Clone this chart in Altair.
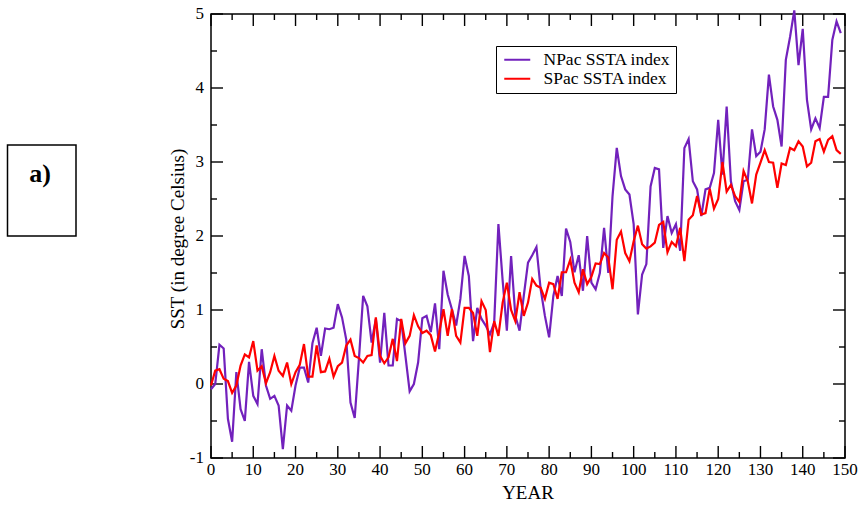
import altair as alt
import pandas as pd

years = list(range(150))

npac = [-0.07, 0.00, 0.53, 0.48, -0.47, -0.78, 0.16, -0.34, -0.50, 0.30,
        -0.16, -0.27, 0.47, -0.02, -0.20, -0.16, -0.29, -0.88, -0.29, -0.36,
        -0.02, 0.22, 0.22, 0.02, 0.55, 0.76, 0.38, 0.75, 0.74, 0.76,
        1.08, 0.90, 0.60, -0.25, -0.46, 0.34, 1.19, 1.05, 0.56, 0.88,
        0.29, 0.96, 0.25, 0.25, 0.88, 0.85, 0.38, -0.10, 0.00, 0.29,
        0.89, 0.92, 0.70, 1.09, 0.47, 1.53, 1.21, 1.01, 0.79, 1.15,
        1.73, 1.46, 0.58, 1.03, 0.88, 0.79, 0.67, 0.83, 2.16, 1.40,
        0.72, 1.73, 0.92, 0.72, 1.19, 1.64, 1.74, 1.85, 1.28, 0.92,
        0.63, 1.19, 1.46, 1.19, 2.10, 1.92, 1.51, 1.74, 1.26, 2.00,
        1.37, 1.28, 1.50, 2.11, 1.50, 2.54, 3.19, 2.81, 2.63, 2.56,
        2.16, 0.94, 1.48, 1.62, 2.67, 2.92, 2.90, 1.84, 2.27, 2.04,
        2.16, 1.80, 3.19, 3.31, 2.74, 2.63, 2.27, 2.63, 2.65, 2.85,
        3.57, 2.83, 3.75, 2.74, 2.47, 2.35, 2.74, 2.76, 3.44, 3.08,
        3.14, 3.44, 4.18, 3.75, 3.57, 3.21, 4.38, 4.69, 5.05, 4.31,
        4.80, 3.84, 3.44, 3.59, 3.46, 3.88, 3.88, 4.65, 4.90, 4.74]

spac = [-0.02, 0.18, 0.20, 0.07, 0.04, -0.12, -0.02, 0.25, 0.40, 0.36,
        0.58, 0.18, 0.24, 0.01, 0.16, 0.38, 0.18, 0.11, 0.29, 0.00,
        0.16, 0.26, 0.54, 0.10, 0.10, 0.52, 0.16, 0.17, 0.34, 0.10,
        0.24, 0.29, 0.52, 0.60, 0.38, 0.35, 0.29, 0.38, 0.39, 0.90,
        0.38, 0.28, 0.36, 0.61, 0.31, 0.88, 0.55, 0.65, 0.93, 0.78,
        0.69, 0.72, 0.66, 0.44, 0.70, 1.01, 0.65, 1.01, 0.65, 0.56,
        1.03, 1.03, 0.96, 0.65, 1.12, 1.00, 0.43, 0.85, 0.65, 1.10,
        1.37, 1.00, 0.85, 1.24, 0.92, 1.10, 1.42, 1.33, 1.30, 1.15,
        1.37, 1.35, 1.15, 1.51, 1.51, 1.68, 1.37, 1.24, 1.55, 1.35,
        1.45, 1.63, 1.62, 1.77, 1.71, 1.28, 1.95, 2.06, 1.77, 1.66,
        1.93, 2.14, 1.89, 1.83, 1.86, 1.91, 2.15, 2.19, 1.78, 1.92,
        1.86, 2.11, 1.66, 2.22, 2.28, 2.54, 2.29, 2.31, 2.64, 2.37,
        2.50, 3.00, 2.60, 2.69, 2.54, 2.46, 2.88, 2.74, 2.44, 2.83,
        2.99, 3.16, 3.00, 2.99, 2.65, 2.98, 2.96, 3.19, 3.16, 3.28,
        3.21, 2.94, 2.99, 3.28, 3.31, 3.14, 3.30, 3.35, 3.16, 3.11]

series_names = ["NPac SSTA index", "SPac SSTA index"]
series_colors = ["#7221bc", "#ff0000"]

x_major_values = list(range(0, 151, 10))
x_minor_values = list(range(5, 150, 10))
y_major_values = list(range(-1, 6))
y_minor_values = [v + 0.5 for v in range(-1, 5)]

x_title = "YEAR"
y_title = "SST (in degree Celsius)"
panel_label = "a)"

X_MIN, X_MAX = 0, 150
Y_MIN, Y_MAX = -1, 5

df = pd.DataFrame({
    "YEAR": years + years,
    "SST": npac + spac,
    "series": [series_names[0]] * len(years) + [series_names[1]] * len(years),
})
one = pd.DataFrame({"k": [0]})

W, H = 634, 444
LEFT, TOP = 211, 14
MAJOR, MINOR = 12, 6  # tick lengths in pixels
PX_PER_X = W / (X_MAX - X_MIN)
PX_PER_Y = H / (Y_MAX - Y_MIN)
FONT = "Liberation Serif"

xs = alt.Scale(domain=[X_MIN, X_MAX], nice=False, zero=False)
ys = alt.Scale(domain=[Y_MIN, Y_MAX], nice=False, zero=False)

lines = alt.Chart(df).mark_line(strokeWidth=2.2).encode(
    x=alt.X("YEAR:Q", scale=xs, axis=None),
    y=alt.Y("SST:Q", scale=ys, axis=None),
    color=alt.Color("series:N", sort=series_names,
                    scale=alt.Scale(domain=series_names, range=series_colors),
                    legend=alt.Legend(
                        title=None, orient="none", legendX=285, legendY=32,
                        strokeColor="black", fillColor="white", padding=5,
                        symbolType="M-2,0H2", symbolSize=169, symbolStrokeWidth=2,
                        symbolOffset=7.5, symbolFillColor="transparent",
                        labelFont=FONT, labelFontSize=17.5,
                        labelColor="black", labelOffset=17.5, rowPadding=0)),
)

# Inward tick marks on all four sides, as two-point segments built from the tick lists.
tick_rows = []
tid = 0
for v in x_major_values + x_minor_values:
    L = (MAJOR if v in x_major_values else MINOR) / PX_PER_Y
    for y0, y1 in ((Y_MIN, Y_MIN + L), (Y_MAX, Y_MAX - L)):
        tick_rows.append({"tid": tid, "ord": 0, "YEAR": v, "SST": y0})
        tick_rows.append({"tid": tid, "ord": 1, "YEAR": v, "SST": y1})
        tid += 1
for v in y_major_values + y_minor_values:
    L = (MAJOR if v in y_major_values else MINOR) / PX_PER_X
    for x0, x1 in ((X_MIN, X_MIN + L), (X_MAX, X_MAX - L)):
        tick_rows.append({"tid": tid, "ord": 0, "YEAR": x0, "SST": v})
        tick_rows.append({"tid": tid, "ord": 1, "YEAR": x1, "SST": v})
        tid += 1
ticks_df = pd.DataFrame(tick_rows)

ticks = alt.Chart(ticks_df).mark_line(color="black", strokeWidth=1.4).encode(
    x=alt.X("YEAR:Q", scale=xs, axis=None),
    y=alt.Y("SST:Q", scale=ys, axis=None),
    detail="tid:N",
    order="ord:Q",
)

xlab_df = pd.DataFrame({"pos": x_major_values, "label": [str(v) for v in x_major_values]})
ylab_df = pd.DataFrame({"pos": y_major_values, "label": [str(v) for v in y_major_values]})

x_labels = alt.Chart(xlab_df).mark_text(
    font=FONT, fontSize=17, color="black", align="center", baseline="top").encode(
    x=alt.X("pos:Q", scale=xs, axis=None), y=alt.value(H + 4), text="label:N")

y_labels = alt.Chart(ylab_df).mark_text(
    font=FONT, fontSize=17, color="black", align="right", baseline="middle").encode(
    y=alt.Y("pos:Q", scale=ys, axis=None), x=alt.value(-7), text="label:N")

x_title_mark = alt.Chart(one).mark_text(
    font=FONT, fontSize=19, color="black", align="center", baseline="top").encode(
    x=alt.value(W / 2), y=alt.value(H + 26), text=alt.value(x_title))

y_title_mark = alt.Chart(one).mark_text(
    font=FONT, fontSize=19, color="black", align="center", baseline="middle",
    angle=270).encode(
    x=alt.value(-33), y=alt.value(225), text=alt.value(y_title))

box = alt.Chart(one).mark_rect(fill="white", stroke="black", strokeWidth=1.5).encode(
    x=alt.value(7.5 - LEFT), x2=alt.value(76 - LEFT),
    y=alt.value(145 - TOP), y2=alt.value(236 - TOP),
)

box_text = alt.Chart(one).mark_text(
    font=FONT, fontWeight="bold", fontSize=26, color="black",
    align="center", baseline="middle").encode(
    x=alt.value(40 - LEFT), y=alt.value(174 - TOP), text=alt.value(panel_label),
)

chart = alt.layer(
    box, box_text, ticks, lines, x_labels, y_labels, x_title_mark, y_title_mark
).properties(
    width=W, height=H,
    autosize=alt.AutoSizeParams(type="none"),
    padding={"left": LEFT, "top": TOP, "right": 861 - LEFT - W, "bottom": 506 - TOP - H},
    background="white",
).configure_view(
    stroke="black", strokeWidth=1.5,
)

chart.save("out.html", embed_options={"renderer": "svg", "actions": False})
